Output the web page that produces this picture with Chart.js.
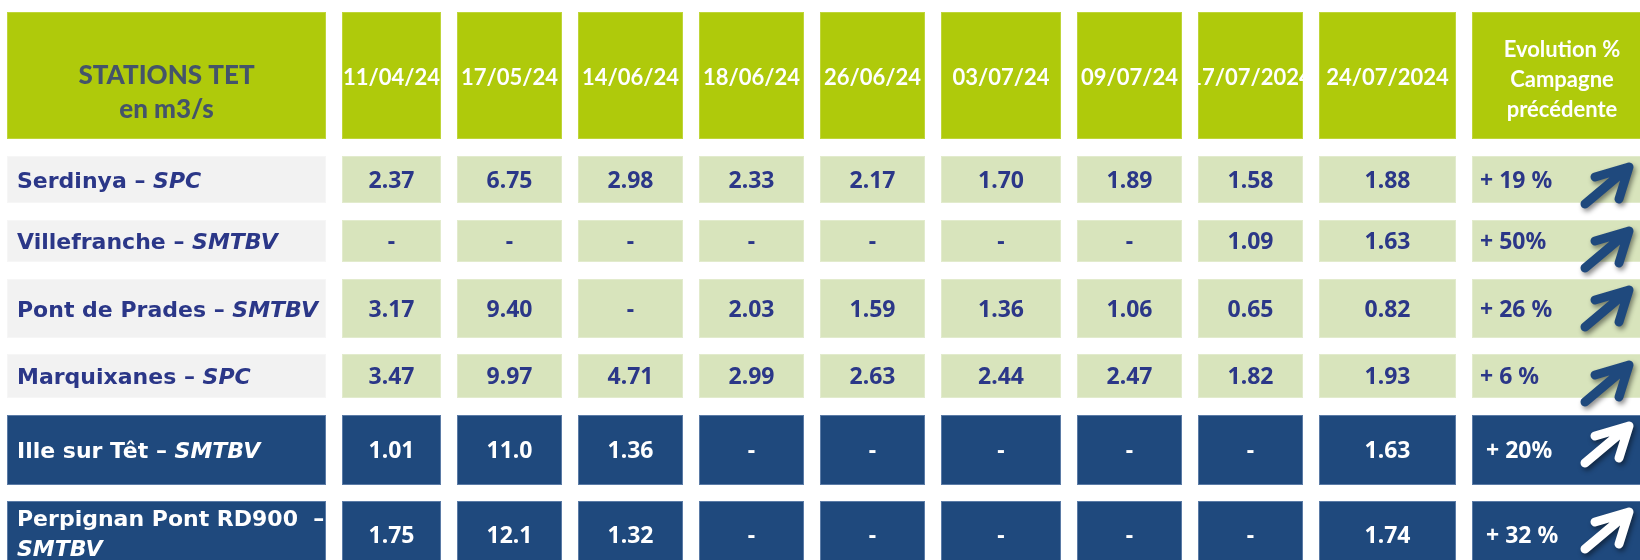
<!DOCTYPE html>
<html><head><meta charset="utf-8">
<script src="https://cdn.jsdelivr.net/npm/chart.js@4.4.1/dist/chart.umd.min.js"></script>
<style>html,body{margin:0;padding:0;background:#fff;overflow:hidden}canvas{display:block}</style>
</head><body>
<canvas id="c" width="1640" height="560"></canvas>
<script>
// ---------- DATA ----------
const headerTitle = ['STATIONS TET', 'en m3/s'];
const dates = ['11/04/24','17/05/24','14/06/24','18/06/24','26/06/24','03/07/24','09/07/24','17/07/2024','24/07/2024'];
const evolutionHeader = ['Evolution %', 'Campagne', 'précédente'];
const stations = ['Serdinya', 'Villefranche', 'Pont de Prades', 'Marquixanes', 'Ille sur Têt', 'Perpignan Pont RD900'];
const operators = ['SPC', 'SMTBV', 'SMTBV', 'SPC', 'SMTBV', 'SMTBV'];
const serdinya     = [2.37, 6.75, 2.98, 2.33, 2.17, 1.70, 1.89, 1.58, 1.88];
const villefranche = [null, null, null, null, null, null, null, 1.09, 1.63];
const pontDePrades = [3.17, 9.40, null, 2.03, 1.59, 1.36, 1.06, 0.65, 0.82];
const marquixanes  = [3.47, 9.97, 4.71, 2.99, 2.63, 2.44, 2.47, 1.82, 1.93];
const illeSurTet   = [1.01, 11.0, 1.36, null, null, null, null, null, 1.63];
const perpignan    = [1.75, 12.1, 1.32, null, null, null, null, null, 1.74];
const evolutionLabels = ['+ 19 %', '+ 50%', '+ 26 %', '+ 6 %', '+ 20%', '+ 32 %'];
const trend = ['up', 'up', 'up', 'up', 'up', 'up'];
const flows = [serdinya, villefranche, pontDePrades, marquixanes, illeSurTet, perpignan];

// ---------- LAYOUT / STYLE ----------
const COLS = [[7,326],[342,441],[457,562],[578,683],[699,804],[820,925],[941,1061],[1077,1182],[1198,1303],[1319,1456],[1472,1652]];
const ROWS = [[12,139],[156,203],[220,262],[279,338],[354,398],[415,485],[501,568]];
const rowTheme = ['light','light','light','light','dark','dark'];
const COLOR = {
  green: '#AFCA0B', greenEdge: '#BFD53A',
  gray: '#F2F2F2', grayEdge: '#F6F6F6',
  pale: '#D8E4BC', paleEdge: '#E2EBCD',
  dark: '#1F497D', darkEdge: '#5B7BA6',
  navy: '#2B3788', slate: '#44546A', white: '#FFFFFF'
};
const F_HEAD = 'bold 22px Lato';
const F_TITLE = '900 26px Lato';
const F_LABEL = 'bold 22px "DejaVu Sans"';
const F_LABEL_I = 'italic bold 22px "DejaVu Sans"';
const F_VAL = 'bold 23px "Noto Sans"';

function fmt(v) { if (v == null) return '-'; return v >= 10 ? v.toFixed(1) : v.toFixed(2); }

const tablePlugin = {
  id: 'tablePlugin',
  afterDraw(chart) {
    const ctx = chart.ctx, xs = chart.scales.x, ys = chart.scales.y;
    const X = v => xs.getPixelForValue(v), Y = v => ys.getPixelForValue(v);
    function cell(ci, ri, fill, edge) {
      const x0 = X(COLS[ci][0]), x1 = X(COLS[ci][1]), y0 = Y(ROWS[ri][0]), y1 = Y(ROWS[ri][1]);
      ctx.fillStyle = fill; ctx.fillRect(x0, y0, x1 - x0, y1 - y0);
      ctx.strokeStyle = edge; ctx.lineWidth = 1; ctx.strokeRect(x0 + 0.5, y0 + 0.5, x1 - x0 - 1, y1 - y0 - 1);
      return {x0, x1, y0, y1, cx: (x0 + x1) / 2, cy: (y0 + y1) / 2};
    }
    function clipText(r, fn) { ctx.save(); ctx.beginPath(); ctx.rect(r.x0, r.y0, r.x1 - r.x0, r.y1 - r.y0); ctx.clip(); fn(); ctx.restore(); }
    ctx.save();
    ctx.textBaseline = 'alphabetic';
    // header
    let r = cell(0, 0, COLOR.green, COLOR.greenEdge);
    ctx.fillStyle = COLOR.slate; ctx.font = F_TITLE; ctx.textAlign = 'center';
    ctx.fillText(headerTitle[0], r.cx, 84);
    ctx.fillText(headerTitle[1], r.cx, 118);
    dates.forEach((d, i) => {
      const rc = cell(i + 1, 0, COLOR.green, COLOR.greenEdge);
      clipText(rc, () => { ctx.fillStyle = COLOR.white; ctx.font = F_HEAD; ctx.textAlign = 'center'; ctx.fillText(d, rc.cx, rc.cy + 9); });
    });
    r = cell(10, 0, COLOR.green, COLOR.greenEdge);
    ctx.fillStyle = COLOR.white; ctx.font = F_HEAD; ctx.textAlign = 'center';
    evolutionHeader.forEach((t, k) => ctx.fillText(t, X(1562), Y(57 + k * 30)));
    // body
    stations.forEach((s, i) => {
      const dark = rowTheme[i] === 'dark';
      const txt = dark ? COLOR.white : COLOR.navy;
      const lc = cell(0, i + 1, dark ? COLOR.dark : COLOR.gray, dark ? COLOR.darkEdge : COLOR.grayEdge);
      clipText(lc, () => {
        ctx.fillStyle = txt; ctx.textAlign = 'left';
        ctx.font = F_LABEL; const a = s + ' – '; const wa = ctx.measureText(a).width;
        ctx.font = F_LABEL_I; const wb = ctx.measureText(operators[i]).width;
        const lx = lc.x0 + 10;
        if (10 + wa + wb <= lc.x1 - lc.x0 - 4) {
          ctx.font = F_LABEL; ctx.fillText(a, lx, lc.cy + 8);
          ctx.font = F_LABEL_I; ctx.fillText(operators[i], lx + wa, lc.cy + 8);
        } else {
          ctx.font = F_LABEL; ctx.fillText(s + '  –', lx, lc.cy - 17 + 8);
          ctx.font = F_LABEL_I; ctx.fillText(operators[i], lx, lc.cy + 13 + 8);
        }
      });
      flows[i].forEach((v, j) => {
        const vc = cell(j + 1, i + 1, dark ? COLOR.dark : COLOR.pale, dark ? COLOR.darkEdge : COLOR.paleEdge);
        ctx.fillStyle = txt; ctx.font = F_VAL; ctx.textAlign = 'center';
        ctx.fillText(fmt(v), vc.cx, vc.cy + 8);
      });
      const ec = cell(10, i + 1, dark ? COLOR.dark : COLOR.pale, dark ? COLOR.darkEdge : COLOR.paleEdge);
      ctx.fillStyle = txt; ctx.font = F_VAL; ctx.textAlign = 'left';
      ctx.fillText(evolutionLabels[i], ec.x0 + (dark ? 14 : 8), ec.cy + 8);
      if (trend[i] === 'up') {
        const tx = X(1629), ty = ec.y0 + 11;
        ctx.save();
        ctx.strokeStyle = dark ? COLOR.white : COLOR.dark;
        ctx.lineWidth = 9; ctx.lineCap = 'round'; ctx.lineJoin = 'round';
        ctx.shadowColor = 'rgba(0,0,0,0.45)'; ctx.shadowBlur = 5; ctx.shadowOffsetX = 2; ctx.shadowOffsetY = 3;
        ctx.beginPath();
        ctx.moveTo(tx - 44, ty + 37); ctx.lineTo(tx, ty);
        ctx.moveTo(tx - 34, ty + 10); ctx.lineTo(tx, ty); ctx.lineTo(tx - 10, ty + 32);
        ctx.stroke();
        ctx.restore();
      }
    });
    ctx.restore();
  }
};

new Chart(document.getElementById('c'), {
  type: 'scatter',
  data: { datasets: [] },
  options: {
    responsive: false, animation: false, devicePixelRatio: 1,
    layout: { padding: 0 },
    plugins: { legend: { display: false }, tooltip: { enabled: false } },
    scales: {
      x: { type: 'linear', min: 0, max: 1640, display: false },
      y: { type: 'linear', min: 0, max: 560, reverse: true, display: false }
    }
  },
  plugins: [tablePlugin]
});
</script>
</body></html>
